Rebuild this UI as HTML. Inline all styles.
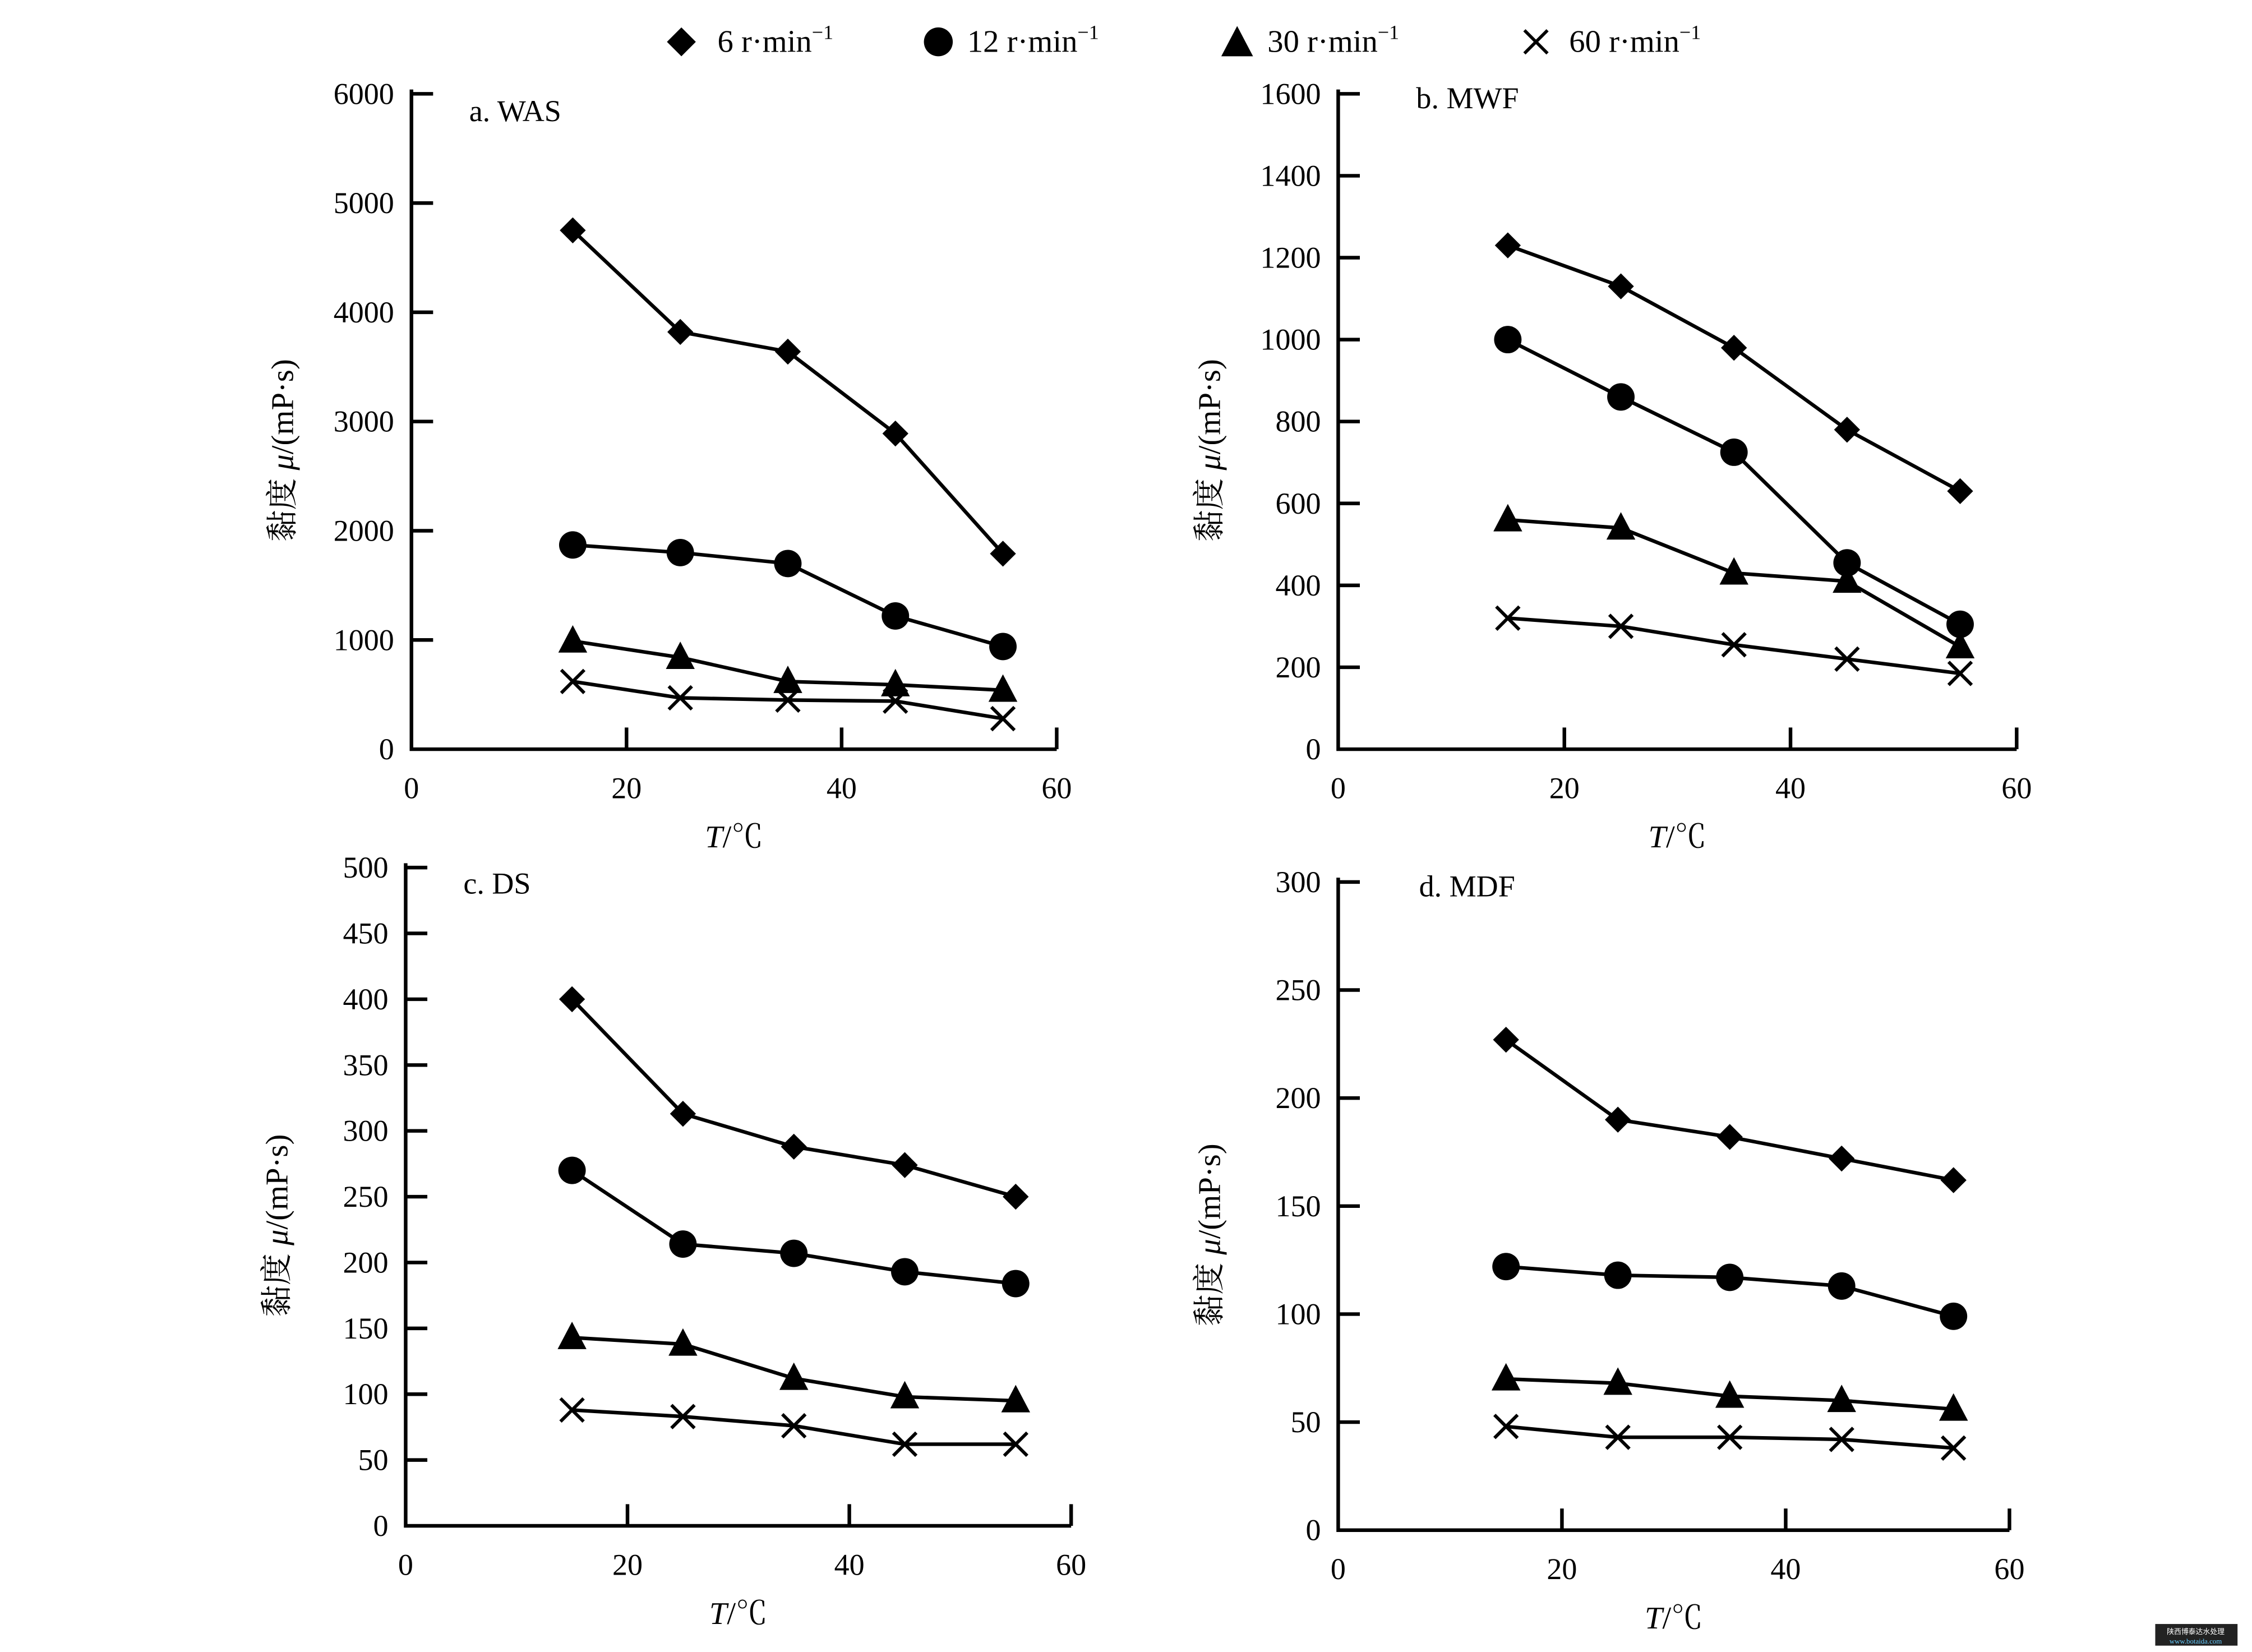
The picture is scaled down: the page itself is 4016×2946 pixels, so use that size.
<!DOCTYPE html>
<html><head><meta charset="utf-8"><style>
html,body{margin:0;padding:0;background:#fff;}
svg{display:block;}
text{font-family:"Liberation Serif","Noto Serif CJK SC",serif;fill:#000;}
</style></head><body>
<svg id="s" width="4016" height="2946" viewBox="0 0 1560 1144.4" xmlns="http://www.w3.org/2000/svg">
<rect width="1560" height="1144.4" fill="#fff"/>
<g>
<polygon points="472,19 482,29 472,39 462,29" fill="#000"/>
<text x="497" y="36" font-size="22">6 r·min<tspan dy="-9" font-size="14">−1</tspan></text>
<circle cx="650" cy="29" r="10" fill="#000"/>
<text x="670" y="36" font-size="22">12 r·min<tspan dy="-9" font-size="14">−1</tspan></text>
<polygon points="857,18 868,39 846,39" fill="#000"/>
<text x="878" y="36" font-size="22">30 r·min<tspan dy="-9" font-size="14">−1</tspan></text>
<path d="M1056,21 L1072,37 M1072,21 L1056,37" stroke="#000" stroke-width="2.2"/>
<text x="1087" y="36" font-size="22">60 r·min<tspan dy="-9" font-size="14">−1</tspan></text>
</g>
<rect x="1493" y="1125" width="57" height="15" fill="#222"/>
<text x="1521" y="1132" font-size="5" text-anchor="middle" style="fill:#fff;font-family:'Noto Sans CJK SC',sans-serif">陕西博泰达水处理</text>
<text x="1521" y="1138.5" font-size="5" text-anchor="middle" style="fill:#6cf">www.botaida.com</text>
<g id="g"></g>
</svg>
<script>
const P=[
 {ax:285,top:65,bot:519,ymax:6000,step:1000,xr:447,lab:"a. WAS",lx:325,ly:84,
  d:[[4750,3820,3640,2890,1790],[1870,1800,1700,1220,940],[990,840,620,590,540],[620,470,450,440,280]]},
 {ax:927,top:65,bot:519,ymax:1600,step:200,xr:470,lab:"b. MWF",lx:981,ly:75,
  d:[[1230,1130,980,780,630],[1000,860,725,455,305],[560,540,430,410,250],[320,300,255,220,185]]},
 {ax:281,top:601,bot:1057,ymax:500,step:50,xr:461,lab:"c. DS",lx:321,ly:619,
  d:[[400,313,288,274,250],[270,214,207,193,184],[143,138,112,98,95],[88,83,76,62,62]]},
 {ax:927,top:611,bot:1060,ymax:300,step:50,xr:465,lab:"d. MDF",lx:983,ly:621,
  d:[[227,190,182,172,162],[122,118,117,113,99],[70,68,62,60,56],[48,43,43,42,38]]}
];
let h="";
for(const p of P){
 const X=v=>p.ax+v/60*p.xr, Y=v=>p.bot-(v/p.ymax)*(p.bot-p.top);
 h+=`<path d="M${p.ax},${p.top-3} V${p.bot} H${X(60)}" fill="none" stroke="#000" stroke-width="2.5"/>`;
 for(let v=0;v<=p.ymax;v+=p.step){const y=Y(v);
  if(v>0)h+=`<line x1="${p.ax}" x2="${p.ax+15}" y1="${y}" y2="${y}" stroke="#000" stroke-width="2.5"/>`;
  h+=`<text x="${p.ax-12}" y="${y+7}" font-size="21" text-anchor="end">${v}</text>`;}
 for(let v=0;v<=60;v+=20){const x=X(v);
  if(v>0)h+=`<line x1="${x}" x2="${x}" y1="${p.bot}" y2="${p.bot-15}" stroke="#000" stroke-width="2.5"/>`;
  h+=`<text x="${x}" y="${p.bot+34}" font-size="21" text-anchor="middle">${v}</text>`;}
 h+=`<text x="${p.lx}" y="${p.ly}" font-size="21">${p.lab}</text>`;
 h+=`<text x="${X(30)}" y="${p.bot+68}" font-size="22" text-anchor="middle"><tspan font-style="italic">T</tspan>/℃</text>`;
 const cy=(p.top+p.bot)/2+20, cx=p.ax-82;
 h+=`<text transform="translate(${cx},${cy}) rotate(-90)" font-size="22" text-anchor="middle"><tspan style="font-family:'Noto Serif CJK SC','Noto Sans CJK SC',serif">黏度</tspan> <tspan font-style="italic">μ</tspan>/(mP·s)</text>`;
 const xs=[15,25,35,45,55];
 p.d.forEach((s,k)=>{
  const pts=s.map((v,i)=>[X(xs[i]),Y(v)]);
  h+=`<polyline points="${pts.map(q=>q.join(',')).join(' ')}" fill="none" stroke="#000" stroke-width="2.5"/>`;
  for(const [x,y] of pts){
   if(k==0)h+=`<polygon points="${x},${y-9} ${x+9},${y} ${x},${y+9} ${x-9},${y}" fill="#000"/>`;
   if(k==1)h+=`<circle cx="${x}" cy="${y}" r="9.5" fill="#000"/>`;
   if(k==2)h+=`<polygon points="${x},${y-11} ${x+10},${y+8} ${x-10},${y+8}" fill="#000"/>`;
   if(k==3)h+=`<path d="M${x-8},${y-8} L${x+8},${y+8} M${x+8},${y-8} L${x-8},${y+8}" stroke="#000" stroke-width="2.3"/>`;
  }
 });
}
document.getElementById("g").innerHTML=h;
</script>
</body></html>
